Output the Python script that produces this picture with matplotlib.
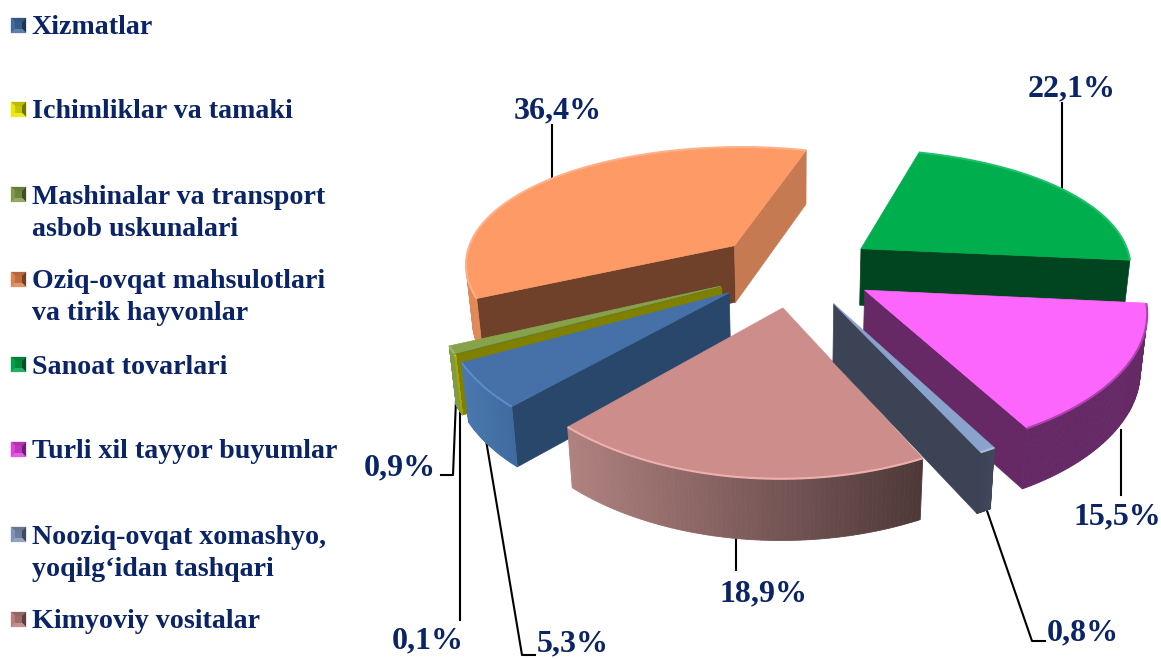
import numpy as np
import matplotlib
matplotlib.use('Agg')
import matplotlib.pyplot as plt
from matplotlib.patches import Polygon
from matplotlib.colors import to_rgb

plt.rcParams['font.family'] = ['Liberation Serif', 'DejaVu Serif']
plt.rcParams['font.weight'] = 'bold'

# slices in clockwise order, first one starts at start_deg
slice_names = ['Sanoat tovarlari', 'Turli xil tayyor buyumlar',
               'Nooziq-ovqat xomashyo,\nyoqilg\u2018idan tashqari', 'Kimyoviy vositalar',
               'Xizmatlar', 'Ichimliklar va tamaki',
               'Mashinalar va transport\nasbob uskunalari',
               'Oziq-ovqat mahsulotlari\nva tirik hayvonlar']
shares = [22.1, 15.5, 0.8, 18.9, 5.3, 0.1, 0.9, 36.4]

legend_order = [4, 5, 6, 7, 0, 1, 2, 3]
legend_y = [26, 110, 195, 280, 365, 450, 535, 620]

# top, side (from), side (to), cut face at start, cut face at end, rim
colors = [
    ('#00ae4d', '#00934a', '#00693a', '#004520', '#004520', '#1fc06a'),
    ('#fd66fd', '#662966', '#662966', '#662966', '#662966', '#b040b0'),
    ('#8aa3cc', '#40495c', '#3b4354', '#3b4354', '#3b4354', '#a8bcdc'),
    ('#cd8d8b', '#4e3938', '#b08280', '#5a3f3e', '#5a3f3e', '#eeb0ae'),
    ('#4571a8', '#3f6b9f', '#4a78ae', '#28476b', '#28476b', '#5c8cc6'),
    ('#7f7f00', '#a6a600', '#a6a600', '#7f7f00', '#7f7f00', '#e6e600'),
    ('#86a34c', '#7f9b47', '#7f9b47', '#5f7a35', '#5f7a35', '#9cb860'),
    ('#fd9a66', '#e08a5a', '#e08a5a', '#6f402a', '#c57a52', '#ffb088'),
]
key_colors = ['#00a04a', '#e040e0', '#7f93b8', '#b87e7c', '#3f6b9f', '#e8e800', '#7f9b47', '#e0804f']

# label text position, and its leader line
label_xy = [(1072, 87), (1117, 515), (1083, 631), (764, 592), (573, 642), (428, 639), (400, 466), (558, 109)]
leaders = [
    [(1062, 103), (1062, 190)],
    [(1121, 430), (1121, 495)],
    [(985, 505), (1032, 641), (1045, 641)],
    [(736, 530), (736, 570)],
    [(486, 440), (522, 655), (535, 655)],
    [(460, 400), (460, 620)],
    [(456, 400), (453, 475), (441, 475)],
    [(552, 125), (552, 180)],
]

# back to front, as the slices overlap in the picture
draw_order = [0, 7, 6, 5, 4, 1, 3, 2]

start_deg = 16.0
explode = 0.30
cx, cy = 795, 269
rx, ry = 272, 124
persp = 0.18
depth = 57
navy = '#0b2466'


def project(x, y, z):
    s = 1 / (1 + persp * y)
    return cx + rx * x * s ** 0.75 * (1 - 0.02 * z), cy - ry * y * s + depth * z * s ** 0.3


def shade(c1, c2, t):
    c1, c2 = np.array(to_rgb(c1)), np.array(to_rgb(c2))
    return tuple(c1 + (c2 - c1) * t)


def area(pts):
    p = np.array(pts)
    return 0.5 * np.sum(p[:, 0] * np.roll(p[:, 1], -1) - np.roll(p[:, 0], -1) * p[:, 1])


def draw_slice(ax, t0, t1, col):
    top, side0, side1, cut0, cut1, rim = col
    mid = (t0 + t1) / 2
    ax0, ay0 = explode * np.sin(mid), explode * np.cos(mid)
    t = np.linspace(t0, t1, 80)
    xs, ys = ax0 + np.sin(t), ay0 + np.cos(t)

    apex_top = project(ax0, ay0, 0)
    apex_bot = project(ax0, ay0, 1)
    a_top = list(zip(*project(xs, ys, 0)))
    a_bot = list(zip(*project(xs, ys, 1)))

    # cut faces, only when they face the viewer
    q0 = [apex_top, a_top[0], a_bot[0], apex_bot]
    q1 = [apex_top, a_top[-1], a_bot[-1], apex_bot]
    if area(q0) < 0:
        ax.add_patch(Polygon(q0, fc=cut0, ec=cut0, lw=0.5))
    if area(q1) > 0:
        ax.add_patch(Polygon(q1, fc=cut1, ec=cut1, lw=0.5))

    # curved side
    x_all = np.array([p[0] for p in a_top])
    for i in range(len(t) - 1):
        q = [a_top[i], a_top[i + 1], a_bot[i + 1], a_bot[i]]
        if area(q) > 0:
            continue
        f = (x_all[i] - x_all.min()) / (x_all.max() - x_all.min() + 1e-9)
        c = shade(side1, side0, f)
        ax.add_patch(Polygon(q, fc=c, ec=c, lw=0.6))

    ax.add_patch(Polygon([apex_top] + a_top, fc=top, ec=top, lw=0.5))
    ax.add_patch(Polygon(a_top, closed=False, fill=False, ec=rim, lw=1.5))


def draw_key(ax, x, y, c):
    # small bevelled square
    s = 15
    m = 4
    c = to_rgb(c)
    corners = [(x, y), (x + s, y), (x + s, y + s), (x, y + s)]
    inner = [(x + m, y + m), (x + s - m, y + m), (x + s - m, y + s - m), (x + m, y + s - m)]
    tones = [shade(c, (0, 0, 0), 0.2), shade(c, (0, 0, 0), 0.5), shade(c, (1, 1, 1), 0.15), c]
    for i in range(4):
        j = (i + 1) % 4
        ax.add_patch(Polygon([corners[i], corners[j], inner[j], inner[i]], fc=tones[i], ec=tones[i], lw=0.2))
    ax.add_patch(Polygon(inner, fc=shade(c, (0, 0, 0), 0.15), ec='none'))


fig = plt.figure(figsize=(11.61, 6.59), dpi=100)
ax = fig.add_axes([0, 0, 1, 1])
ax.set_xlim(0, 1161)
ax.set_ylim(659, 0)
ax.axis('off')

for line in leaders:
    ax.plot([p[0] for p in line], [p[1] for p in line], color='black', lw=1.5, zorder=0.5)

angles = np.radians(start_deg + np.cumsum([0] + shares) * 3.6)
for i in draw_order:
    draw_slice(ax, angles[i], angles[i + 1], colors[i])

for i, (x, y) in enumerate(label_xy):
    txt = '{:.1f}%'.format(shares[i]).replace('.', ',')
    ax.text(x, y + 2, txt, color=navy, fontsize=23, fontweight='bold', ha='center', va='center')

for i, y in zip(legend_order, legend_y):
    draw_key(ax, 11, y - 8, key_colors[i])
    for n, part in enumerate(slice_names[i].split('\n')):
        ax.text(32, y + 2 + n * 32, part, color=navy, fontsize=20.2, fontweight='bold', ha='left', va='center')

fig.savefig('out.png', dpi=100)
